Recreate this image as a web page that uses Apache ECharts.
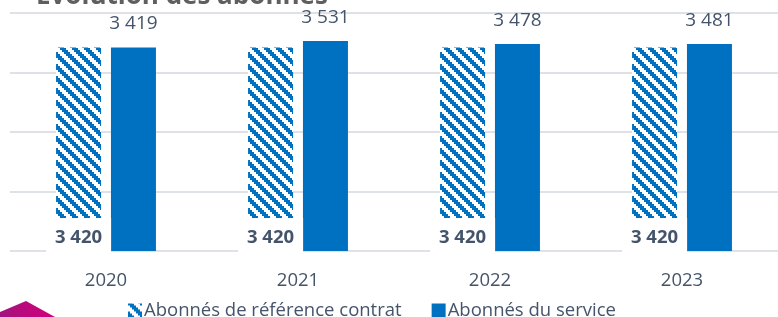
<!DOCTYPE html>
<html>
<head>
<meta charset="utf-8">
<script src="https://cdn.jsdelivr.net/npm/echarts@6/dist/echarts.min.js"></script>
<style>
  html, body { margin: 0; padding: 0; background: #fff; }
  #chart { width: 778px; height: 317px; }
</style>
</head>
<body>
<div id="chart"></div>
<script>
var years = ['2020', '2021', '2022', '2023'];
var contractSubs = [3420, 3420, 3420, 3420];
var serviceSubs = [3419, 3531, 3478, 3481];
var seriesNames = ['Abonnés de référence contrat', 'Abonnés du service'];

var blue = '#0070C0';
var textColor = '#44546A';
var font = '"Open Sans", "Noto Sans", sans-serif';

// diagonal hatch like the Excel pattern fill
function hatch() {
    var c = document.createElement('canvas');
    c.width = 12;
    c.height = 12;
    var ctx = c.getContext('2d');
    ctx.fillStyle = '#fff';
    ctx.fillRect(0, 0, 12, 12);
    ctx.fillStyle = blue;
    for (var y = 0; y < 6; y++) {
        for (var x = 0; x < 6; x++) {
            if (((x - y) % 6 + 6) % 6 < 3) ctx.fillRect(x * 2, y * 2, 2, 2);
        }
    }
    return c;
}

function fmt(v) {
    return String(v).replace(/\B(?=(\d{3})+(?!\d))/g, ' ');
}

var myChart = echarts.init(document.getElementById('chart'));
myChart.setOption({
    animation: false,
    title: {
        text: 'Évolution des abonnés',
        left: 31,
        top: -21,
        textStyle: { fontFamily: font, fontSize: 26, fontWeight: 'bold', color: '#5F5F5F' }
    },
    legend: {
        left: 123,
        top: 296,
        icon: 'rect',
        itemWidth: 14,
        itemHeight: 14,
        itemGap: 30,
        textStyle: { fontFamily: font, fontSize: 18.5, color: textColor, padding: [0, 0, 0, -3] },
        data: seriesNames
    },
    grid: { left: 10, top: 13, width: 775, height: 238 },
    xAxis: {
        type: 'category',
        data: years,
        axisLine: { show: false },
        axisTick: { show: false },
        axisLabel: { fontFamily: font, fontSize: 18.5, color: textColor, margin: 20 }
    },
    yAxis: {
        type: 'value',
        min: 0,
        max: 4000,
        interval: 1000,
        axisLabel: { show: false },
        axisLine: { show: false },
        splitLine: { lineStyle: { color: '#DEE2E8', width: 2 } }
    },
    series: [
        {
            name: seriesNames[0],
            type: 'bar',
            data: contractSubs,
            barWidth: 45,
            barGap: '22%',
            itemStyle: { color: { image: hatch(), repeat: 'repeat' } },
            label: {
                show: true,
                position: 'insideBottom',
                distance: 0,
                offset: [0, 6],
                padding: [10, 9, 10, 9],
                backgroundColor: '#fff',
                fontFamily: font,
                fontSize: 18.5,
                fontWeight: 'bold',
                color: textColor,
                formatter: function (p) { return fmt(p.value); }
            }
        },
        {
            name: seriesNames[1],
            type: 'bar',
            data: serviceSubs,
            barWidth: 45,
            itemStyle: { color: blue },
            label: {
                show: true,
                position: 'top',
                distance: 14,
                fontFamily: font,
                fontSize: 19,
                color: textColor,
                formatter: function (p) { return fmt(p.value); }
            }
        }
    ],
    graphic: [{
        type: 'polygon',
        silent: true,
        shape: { points: [[0, 317], [0, 312], [26, 301], [55, 317]] },
        style: {
            fill: {
                type: 'linear', x: 0, y: 0, x2: 1, y2: 0,
                colorStops: [{ offset: 0, color: '#A3127F' }, { offset: 1, color: '#D4007A' }]
            }
        }
    }]
});
</script>
</body>
</html>
